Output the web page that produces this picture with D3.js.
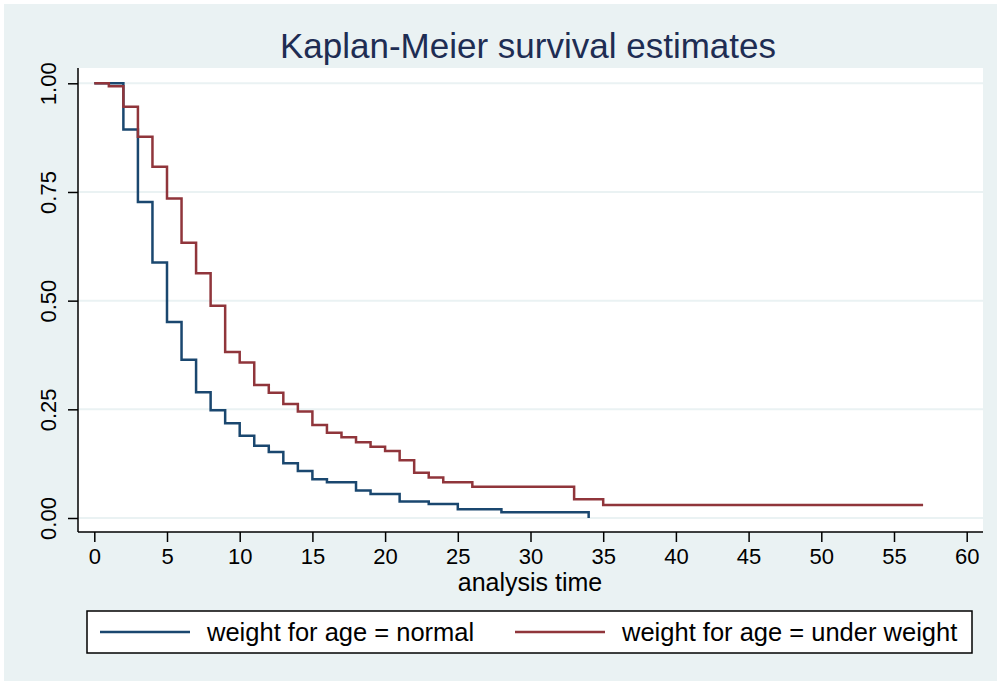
<!DOCTYPE html>
<html>
<head>
<meta charset="utf-8">
<script src="https://cdn.jsdelivr.net/npm/d3@7"></script>
<style>
  body { margin: 0; background: #fff; }
  svg { display: block; font-family: "Liberation Sans", Arial, sans-serif; }
</style>
</head>
<body>
<svg id="chart"></svg>
<script>
// survival step data
const normalTime = [0, 2, 3, 4, 5, 6, 7, 8, 9, 10, 11, 12, 13, 14, 15, 16, 18, 19, 21, 23, 25, 28, 34];
const normalSurv = [1, 0.894, 0.727, 0.588, 0.451, 0.364, 0.289, 0.248, 0.218, 0.189, 0.166, 0.152, 0.126, 0.108, 0.089, 0.082, 0.063, 0.055, 0.038, 0.032, 0.020, 0.013, 0.000];

const underTime = [0, 1, 2, 3, 4, 5, 6, 7, 8, 9, 10, 11, 12, 13, 14, 15, 16, 17, 18, 19, 20, 21, 22, 23, 24, 26, 33, 35, 57];
const underSurv = [1, 0.993, 0.946, 0.877, 0.808, 0.735, 0.633, 0.563, 0.488, 0.382, 0.358, 0.306, 0.288, 0.262, 0.245, 0.214, 0.196, 0.186, 0.174, 0.164, 0.154, 0.133, 0.104, 0.093, 0.082, 0.072, 0.043, 0.030, 0.030];

const xTicks = [0, 5, 10, 15, 20, 25, 30, 35, 40, 45, 50, 55, 60];
const yTicks = [0, 0.25, 0.5, 0.75, 1];
const seriesNames = ["weight for age = normal", "weight for age = under weight"];
const seriesColors = ["#1a476f", "#90353b"];

const W = 1001, H = 685;
const svg = d3.select("#chart").attr("width", W).attr("height", H);

// outer graph region
svg.append("rect").attr("x", 0).attr("y", 0).attr("width", W).attr("height", H).attr("fill", "#fff");
svg.append("rect").attr("x", 4).attr("y", 4).attr("width", W - 8).attr("height", H - 8).attr("fill", "#eaf2f3");

// plot region
const plot = {left: 78, right: 983, top: 68, bottom: 532};
svg.append("rect")
  .attr("x", plot.left).attr("y", plot.top)
  .attr("width", plot.right - plot.left).attr("height", plot.bottom - plot.top)
  .attr("fill", "#fff");

const x = d3.scaleLinear().domain([0, 60]).range([94.3, 966.7]);
const y = d3.scaleLinear().domain([0, 1]).range([518, 83.3]);

// gridlines
svg.append("g").selectAll("line")
  .data(yTicks)
  .join("line")
    .attr("x1", plot.left).attr("x2", plot.right)
    .attr("y1", d => y(d)).attr("y2", d => y(d))
    .attr("stroke", "#eaf2f3").attr("stroke-width", 2);

// axes
const xAxis = d3.axisBottom(x).tickValues(xTicks).tickSize(10).tickPadding(6).tickFormat(d3.format("d"));
const gx = svg.append("g").attr("transform", `translate(0,${plot.bottom})`).call(xAxis);
gx.select(".domain").attr("d", `M${plot.left},0H${plot.right}`).attr("stroke", "#000").attr("stroke-width", 1.5);
gx.selectAll(".tick line").attr("stroke", "#000").attr("stroke-width", 1.5);
gx.selectAll(".tick text").attr("font-size", 22).attr("fill", "#000").attr("font-family", "Liberation Sans, Arial, sans-serif");

const yAxis = d3.axisLeft(y).tickValues(yTicks).tickSize(10).tickFormat(d3.format(".2f"));
const gy = svg.append("g").attr("transform", `translate(${plot.left},0)`).call(yAxis);
gy.select(".domain").attr("d", `M0,${plot.top}V${plot.bottom}`).attr("stroke", "#000").attr("stroke-width", 1.5);
gy.selectAll(".tick line").attr("stroke", "#000").attr("stroke-width", 1.5);
gy.selectAll(".tick text")
  .attr("font-size", 22).attr("fill", "#000").attr("font-family", "Liberation Sans, Arial, sans-serif")
  .attr("x", null)
  .attr("text-anchor", "middle")
  .attr("transform", "translate(-30,0) rotate(-90)")
  .attr("dy", "0.35em");

// step curves
const line = d3.line().x(d => x(d[0])).y(d => y(d[1])).curve(d3.curveStepAfter);
const series = [
  d3.zip(normalTime, normalSurv),
  d3.zip(underTime, underSurv)
];
svg.append("g").selectAll("path")
  .data(series)
  .join("path")
    .attr("d", line)
    .attr("fill", "none")
    .attr("stroke", (d, i) => seriesColors[i])
    .attr("stroke-width", 2.5);

// title and axis title
svg.append("text")
  .attr("x", 528).attr("y", 58)
  .attr("text-anchor", "middle")
  .attr("font-size", 35).attr("fill", "#1e2d53")
  .text("Kaplan-Meier survival estimates");

svg.append("text")
  .attr("x", 530).attr("y", 591)
  .attr("text-anchor", "middle")
  .attr("font-size", 25).attr("fill", "#000")
  .text("analysis time");

// legend
const legend = svg.append("g");
legend.append("rect")
  .attr("x", 87).attr("y", 611).attr("width", 885).attr("height", 42)
  .attr("fill", "#fff").attr("stroke", "#000").attr("stroke-width", 1.5);
const legendX = [100, 515];
seriesNames.forEach((name, i) => {
  legend.append("line")
    .attr("x1", legendX[i]).attr("x2", legendX[i] + 90)
    .attr("y1", 632).attr("y2", 632)
    .attr("stroke", seriesColors[i]).attr("stroke-width", 2.5);
  legend.append("text")
    .attr("x", legendX[i] + 107).attr("y", 641)
    .attr("font-size", 25.5).attr("fill", "#000")
    .text(name);
});
</script>
</body>
</html>
